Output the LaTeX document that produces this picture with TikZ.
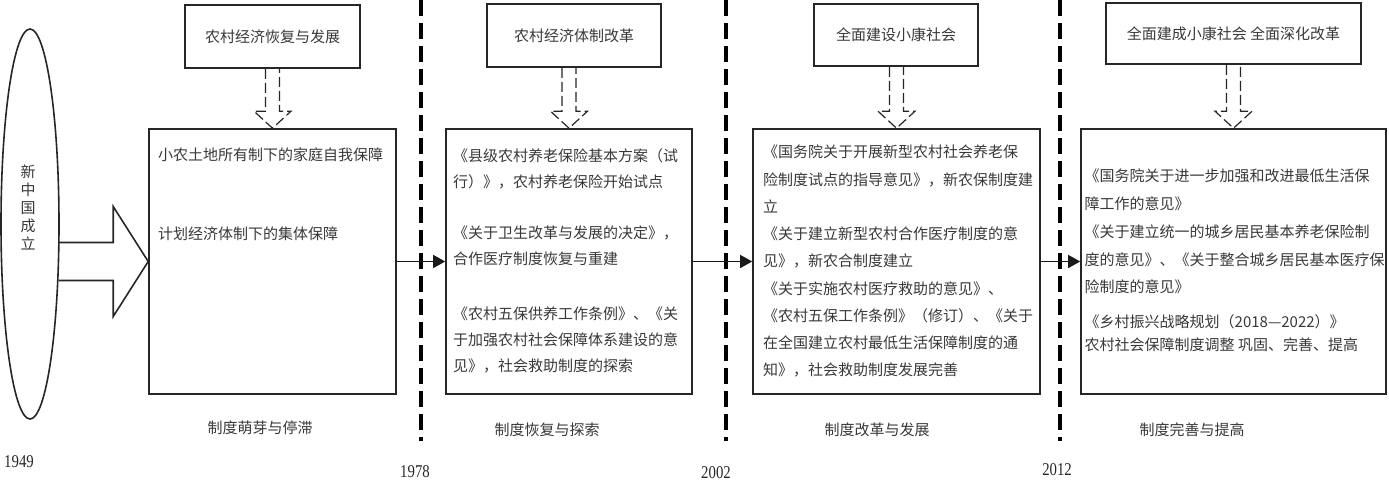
\documentclass[tikz,border=0pt]{standalone}
\usepackage{fontspec}
\newfontfamily\cjk{Noto Sans CJK SC}
\newfontfamily\yrfont[FakeStretch=0.82]{Liberation Serif}
\usepackage{tikz}
\usetikzlibrary{arrows.meta, calc, shapes.geometric}

\begin{document}
\begin{tikzpicture}[x=1pt, y=-1pt,
      box/.style={draw=black!85, line width=1.6pt, inner sep=0pt, minimum height=265pt},
      top/.style={draw=black!85, line width=1.6pt, inner sep=0pt, font=\cjk\fontsize{15}{18}\selectfont, text=black!78},
      txt/.style={font=\cjk\fontsize{15}{26}\selectfont, text=black!78, inner sep=0pt, align=left, anchor=north west},
      lbl/.style={font=\cjk\fontsize{15}{18}\selectfont, text=black!78, inner sep=0pt},
      yr/.style={font=\yrfont\fontsize{18}{20}\selectfont, text=black!85, inner sep=0pt},
      hollow/.style={draw=black!85, line width=1.2pt, dash pattern=on 10pt off 4pt},
      timeline/.style={draw=black, line width=4pt, dash pattern=on 16pt off 7pt},
      link/.style={draw=black!90, line width=1.4pt, -{Triangle[length=12pt,width=13pt]}}]
      \useasboundingbox (0,0) rectangle (1389,485);
      % period boxes
      \node[box, minimum width=247pt] (B1) at (272.5,261.5) {};
      \node[box, minimum width=246pt] (B2) at (569,261.5) {};
      \node[box, minimum width=287pt] (B3) at (896.5,261.5) {};
      \node[box, minimum width=305pt] (B4) at (1233.5,261.5) {};
      \node[top, minimum width=175pt, minimum height=63pt] (T1) at (272.5,36.5) {农村经济恢复与发展};
      \node[top, minimum width=174pt, minimum height=63pt] (T2) at (574,35.5) {农村经济体制改革};
      \node[top, minimum width=164pt, minimum height=62pt] (T3) at (896,35) {全面建设小康社会};
      \node[top, minimum width=255pt, minimum height=61pt] (T4) at (1233.5,33.5) {全面建成小康社会 全面深化改革};
      % start
      \node[draw=black!85, line width=1.6pt, ellipse, minimum width=58pt, minimum height=390pt] (E) at (30,224) {};
      \node[lbl, align=center] (E-t) at (28,207) {新\\中\\国\\成\\立};
      \draw[draw=black!85, line width=1.6pt] ($(E.east |- B1.west)+(-1,-19)$) -- ($(B1.west)+(-35,-19)$) -- ($(B1.west)+(-35,-55)$)
            -- (B1.west) -- ($(B1.west)+(-35,55)$) -- ($(B1.west)+(-35,19)$) -- ($(E.east |- B1.west)+(-1,19)$);
      \foreach \t/\b in {T1/B1, T2/B2, T3/B3, T4/B4}
            \draw[hollow] ($(\t.south -| \b.north)+(-7,0)$) -- ($(\b.north)+(-7,-17)$) -- ($(\b.north)+(-18.5,-17)$) -- (\b.north)
            -- ($(\b.north)+(18.5,-17)$) -- ($(\b.north)+(7,-17)$) -- ($(\t.south -| \b.north)+(7,0)$);
      % box texts
      \node[txt] (X1) at (158,148) {小农土地所有制下的家庭自我保障\\[53pt]计划经济体制下的集体保障};
      \node[txt] (X2) at (453,148) {《县级农村养老保险基本方案（试\\行）》，农村养老保险开始试点\\[25pt]《关于卫生改革与发展的决定》，\\合作医疗制度恢复与重建\\[29pt]《农村五保供养工作条例》、《关\\于加强农村社会保障体系建设的意\\见》，社会救助制度的探索};
      \node[txt, font=\cjk\fontsize{15}{27.25}\selectfont] (X3) at (763,145) {《国务院关于开展新型农村社会养老保\\险制度试点的指导意见》，新农保制度建\\立\\《关于建立新型农村合作医疗制度的意\\见》，新农合制度建立\\《关于实施农村医疗救助的意见》、\\《农村五保工作条例》（修订）、《关于\\在全国建立农村最低生活保障制度的通\\知》，社会救助制度发展完善};
      \node[txt, font=\cjk\fontsize{15}{27.7}\selectfont] (X4) at (1084.5,169) {《国务院关于进一步加强和改进最低生活保\\障工作的意见》\\《关于建立统一的城乡居民基本养老保险制\\度的意见》、《关于整合城乡居民基本医疗保\\险制度的意见》\\[7pt]《乡村振兴战略规划（2018—2022）》\\[-4.7pt]农村社会保障制度调整 巩固、完善、提高};
      \node[lbl] (L1) at (260,428) {制度萌芽与停滞};
      \node[lbl] (L2) at (547,430) {制度恢复与探索};
      \node[lbl] (L3) at (877,430) {制度改革与发展};
      \node[lbl] (L4) at (1192,430) {制度完善与提高};
      % time marks
      \draw[timeline] (421,0) -- (421,441);
      \draw[timeline] (726,0) -- (726,441);
      \draw[timeline] (1060,0) -- (1060,441);
      \node[yr] (Y1) at (19,462) {1949};
      \node[yr] (Y2) at (415,472) {1978};
      \node[yr] (Y3) at (716,473) {2002};
      \node[yr] (Y4) at (1057,470) {2012};
      \draw[link] (B1) -- (B2);
      \draw[link] (B2) -- (B3);
      \draw[link] (B3) -- (B4);
\end{tikzpicture}
\end{document}
